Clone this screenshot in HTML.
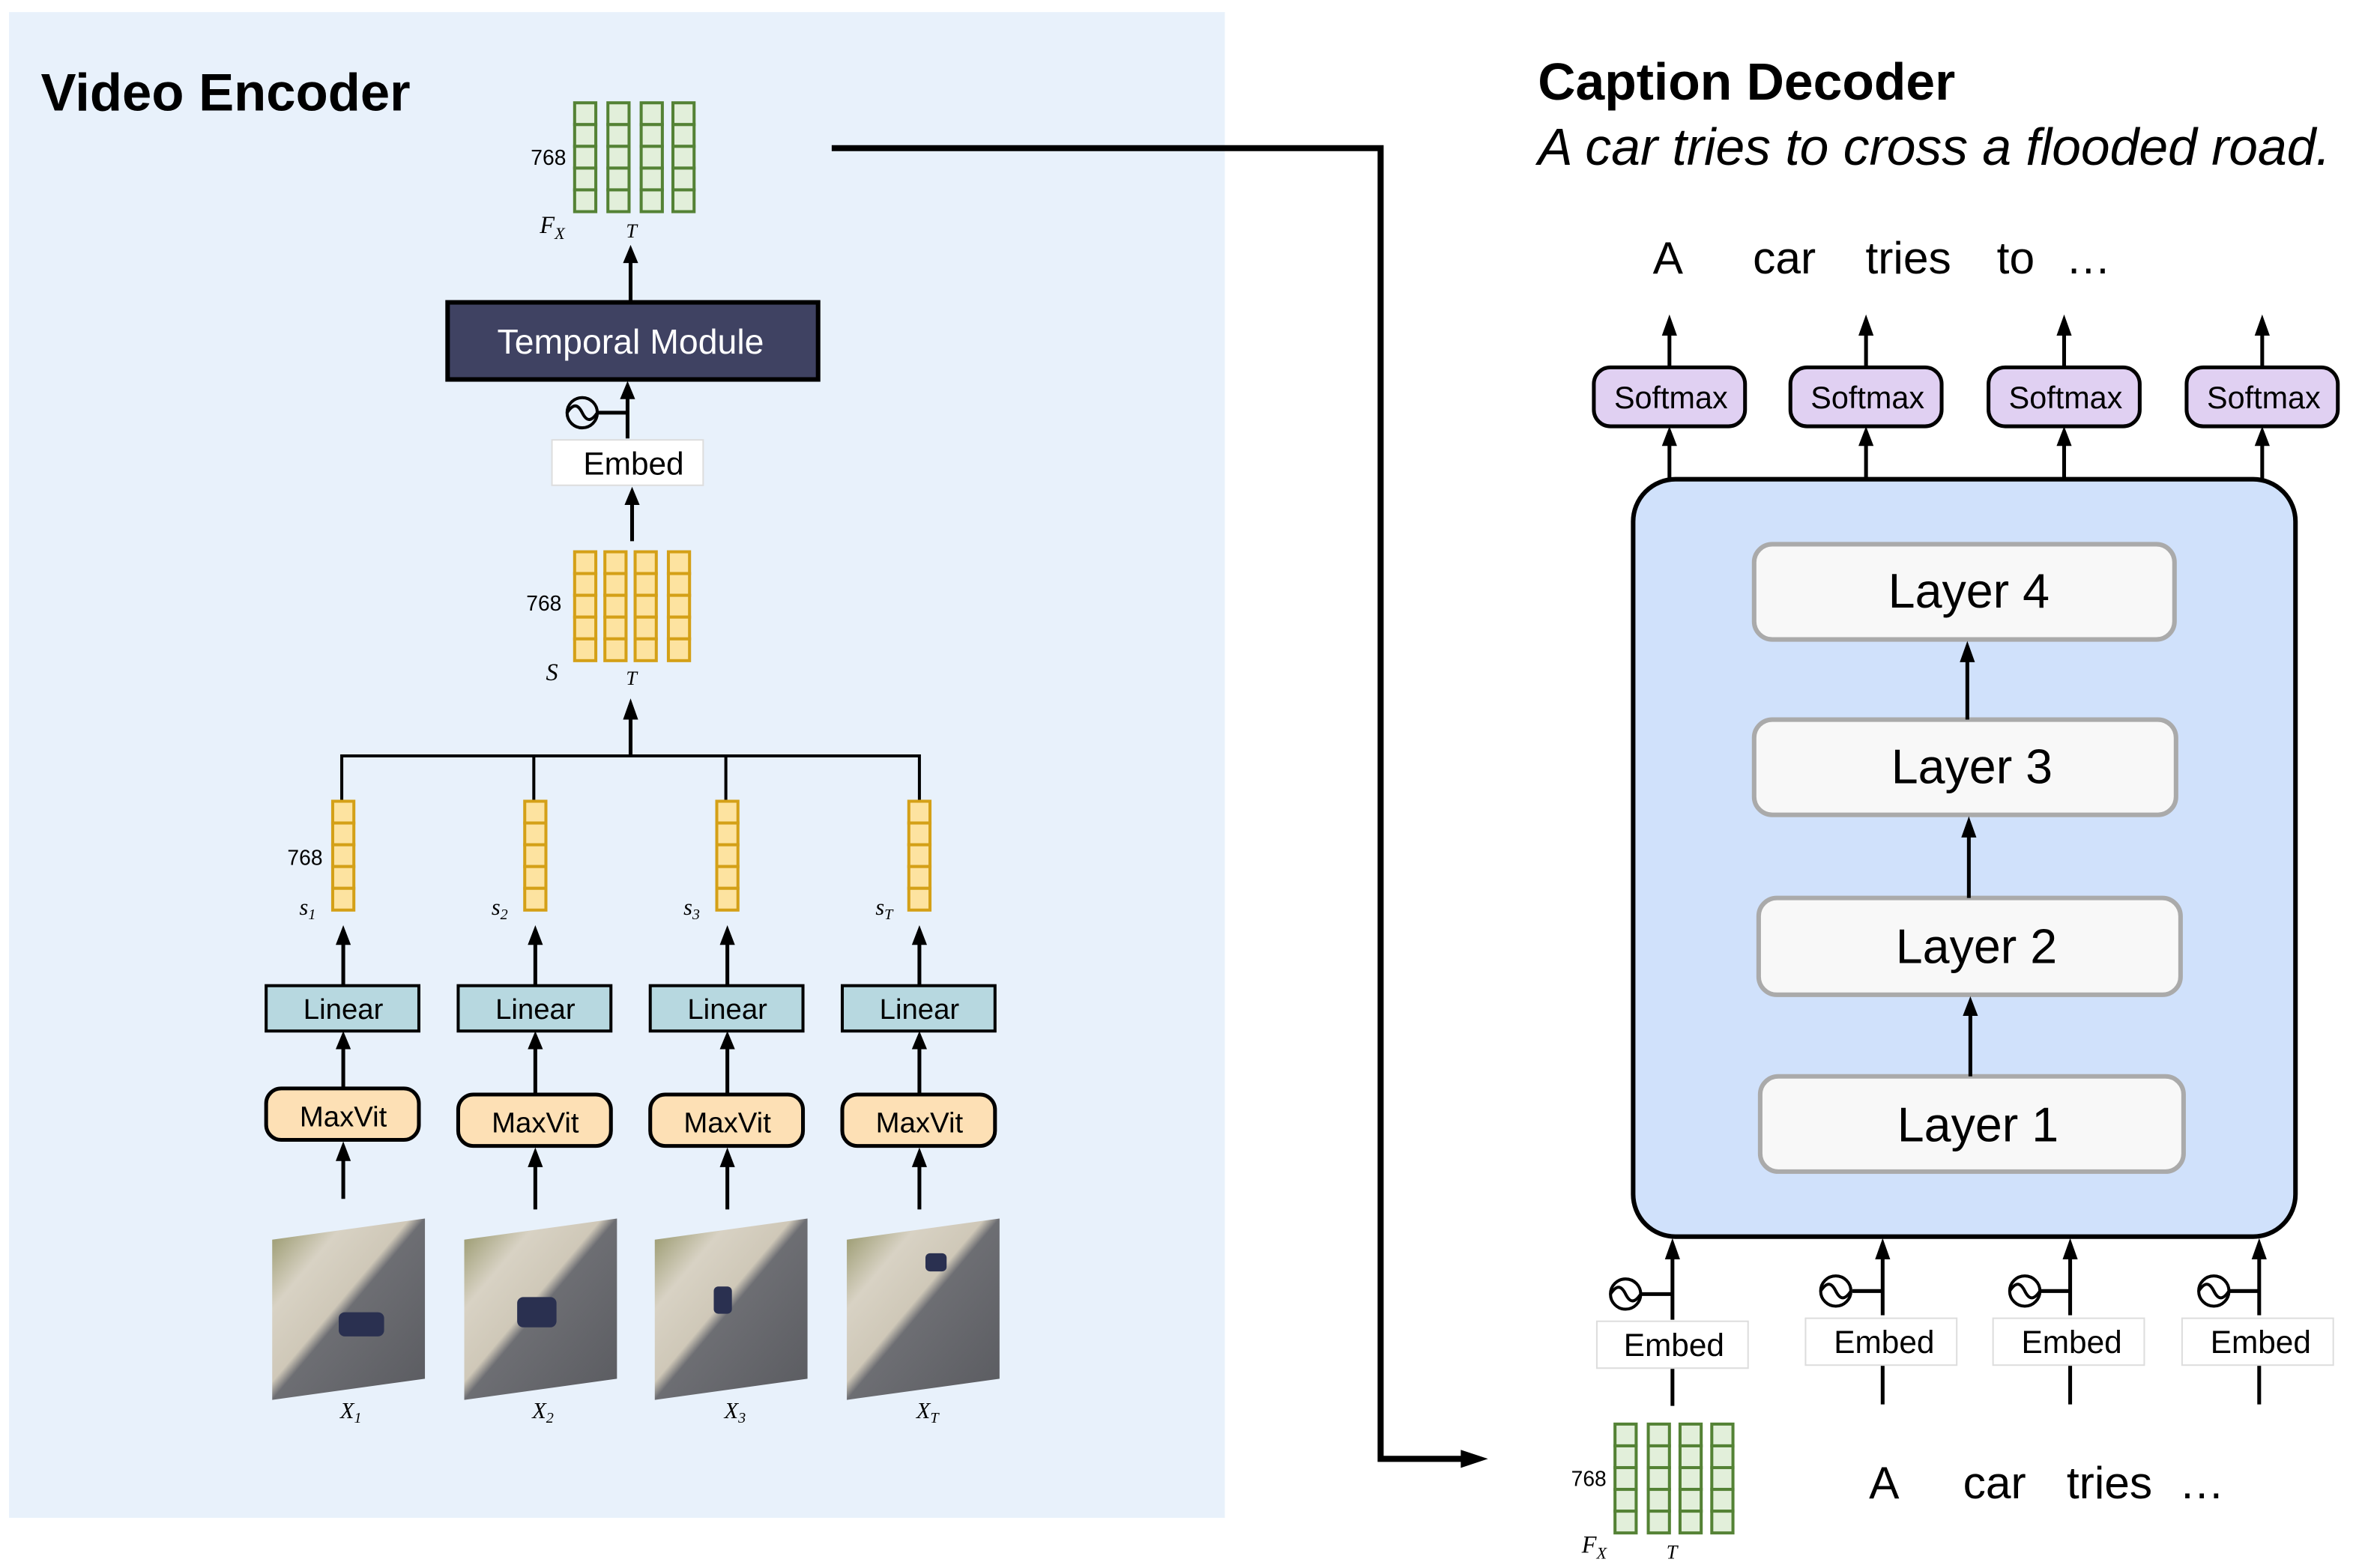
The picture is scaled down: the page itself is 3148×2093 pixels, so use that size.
<!DOCTYPE html>
<html><head><meta charset="utf-8"><style>html,body{margin:0;padding:0;background:#fff}svg{display:block}</style></head>
<body>
<svg width="3148" height="2093" viewBox="0 0 1560 1037.2" xmlns="http://www.w3.org/2000/svg" font-family="Liberation Sans, sans-serif">
<defs>
<g id="cg" fill="#e2efda" stroke="#548235" stroke-width="2">
<rect x="0" y="0" width="14" height="14.4"/><rect x="0" y="14.4" width="14" height="14.4"/><rect x="0" y="28.8" width="14" height="14.4"/><rect x="0" y="43.2" width="14" height="14.4"/><rect x="0" y="57.6" width="14" height="14.4"/>
</g>
<g id="cy" fill="#fde3a0" stroke="#d4a017" stroke-width="2">
<rect x="0" y="0" width="14" height="14.4"/><rect x="0" y="14.4" width="14" height="14.4"/><rect x="0" y="28.8" width="14" height="14.4"/><rect x="0" y="43.2" width="14" height="14.4"/><rect x="0" y="57.6" width="14" height="14.4"/>
</g>
<linearGradient id="img" x1="0" y1="0" x2="1" y2="1">
<stop offset="0" stop-color="#8f9060"/><stop offset="0.25" stop-color="#d8d2c4"/><stop offset="0.45" stop-color="#cfc8b8"/><stop offset="0.5" stop-color="#6d6e73"/><stop offset="1" stop-color="#5a5b60"/>
</linearGradient>
<g id="osc" fill="none" stroke="#000" stroke-width="2"><circle cx="0" cy="0" r="10"/><path d="M-10,0 C-6,-6 -3,-6 0,0 S6,6 10,0"/></g>
</defs>

<rect x="6" y="8" width="804" height="996" fill="#e8f1fb"/>
<text x="27" y="73" font-size="35" font-weight="bold">Video Encoder</text>

<!-- Fx top -->
<use href="#cg" x="380" y="68"/><use href="#cg" x="402" y="68"/><use href="#cg" x="424" y="68"/><use href="#cg" x="445" y="68"/>
<text x="351" y="109" font-size="14">768</text>
<text x="357" y="154" font-size="16" font-style="italic" font-family="Liberation Serif, serif">F<tspan font-size="11" dy="4">X</tspan></text>
<text x="414" y="157" font-size="13" font-style="italic" font-family="Liberation Serif, serif">T</text>

<line x1="417" y1="200" x2="417" y2="172" stroke="#000" stroke-width="2.5"/><polygon points="412,174 422,174 417,162" fill="#000"/>
<rect x="296" y="200" width="245" height="51" fill="#3f4262" stroke="#000" stroke-width="3"/>
<text x="417" y="234" font-size="23" fill="#fff" text-anchor="middle">Temporal Module</text>
<line x1="415" y1="290" x2="415" y2="262" stroke="#000" stroke-width="2.5"/><polygon points="410,264 420,264 415,252" fill="#000"/>
<line x1="395" y1="273" x2="415" y2="273" stroke="#000" stroke-width="2.5"/>
<use href="#osc" x="385" y="273"/>
<rect x="365" y="291" width="100" height="30" fill="#fff" stroke="#ddd"/>
<text x="419" y="314" font-size="21" text-anchor="middle">Embed</text>
<line x1="418" y1="358" x2="418" y2="332" stroke="#000" stroke-width="2.5"/><polygon points="413,334 423,334 418,322" fill="#000"/>

<use href="#cy" x="380" y="365"/><use href="#cy" x="400" y="365"/><use href="#cy" x="420" y="365"/><use href="#cy" x="442" y="365"/>
<text x="348" y="404" font-size="14">768</text>
<text x="361" y="450" font-size="16" font-style="italic" font-family="Liberation Serif, serif">S</text>
<text x="414" y="453" font-size="13" font-style="italic" font-family="Liberation Serif, serif">T</text>
<line x1="417" y1="500" x2="417" y2="474" stroke="#000" stroke-width="2.5"/><polygon points="412,476 422,476 417,462" fill="#000"/>
<polyline points="226,530 226,500 608,500 608,530" fill="none" stroke="#000" stroke-width="2"/>
<line x1="353" y1="500" x2="353" y2="530" stroke="#000" stroke-width="2"/>
<line x1="480" y1="500" x2="480" y2="530" stroke="#000" stroke-width="2"/>

<g>
<use href="#cy" x="220" y="530"/><use href="#cy" x="347" y="530"/><use href="#cy" x="474" y="530"/><use href="#cy" x="601" y="530"/>
<text x="190" y="572" font-size="14">768</text>
<g font-family="Liberation Serif, serif" font-style="italic" font-size="15">
<text x="198" y="605">s<tspan font-size="10" dy="3">1</tspan></text>
<text x="325" y="605">s<tspan font-size="10" dy="3">2</tspan></text>
<text x="452" y="605">s<tspan font-size="10" dy="3">3</tspan></text>
<text x="579" y="605">s<tspan font-size="10" dy="3">T</tspan></text>
</g>
<g stroke="#000" stroke-width="2.5">
<line x1="227" y1="652" x2="227" y2="622"/><line x1="354" y1="652" x2="354" y2="622"/><line x1="481" y1="652" x2="481" y2="622"/><line x1="608" y1="652" x2="608" y2="622"/>
<line x1="227" y1="720" x2="227" y2="692"/><line x1="354" y1="724" x2="354" y2="692"/><line x1="481" y1="724" x2="481" y2="692"/><line x1="608" y1="724" x2="608" y2="692"/>
<line x1="227" y1="793" x2="227" y2="766"/><line x1="354" y1="800" x2="354" y2="770"/><line x1="481" y1="800" x2="481" y2="770"/><line x1="608" y1="800" x2="608" y2="770"/>
</g>
<g fill="#000">
<polygon points="222,625 232,625 227,612"/><polygon points="349,625 359,625 354,612"/><polygon points="476,625 486,625 481,612"/><polygon points="603,625 613,625 608,612"/>
<polygon points="222,694 232,694 227,682"/><polygon points="349,694 359,694 354,682"/><polygon points="476,694 486,694 481,682"/><polygon points="603,694 613,694 608,682"/>
<polygon points="222,768 232,768 227,755"/><polygon points="349,772 359,772 354,759"/><polygon points="476,772 486,772 481,759"/><polygon points="603,772 613,772 608,759"/>
</g>
<g fill="#b7d8e0" stroke="#000" stroke-width="2">
<rect x="176" y="652" width="101" height="30"/><rect x="303" y="652" width="101" height="30"/><rect x="430" y="652" width="101" height="30"/><rect x="557" y="652" width="101" height="30"/>
</g>
<g fill="#fde0b5" stroke="#000" stroke-width="2.5">
<rect x="176" y="720" width="101" height="34" rx="10"/><rect x="303" y="724" width="101" height="34" rx="10"/><rect x="430" y="724" width="101" height="34" rx="10"/><rect x="557" y="724" width="101" height="34" rx="10"/>
</g>
<g font-size="19" text-anchor="middle">
<text x="227" y="674">Linear</text><text x="354" y="674">Linear</text><text x="481" y="674">Linear</text><text x="608" y="674">Linear</text>
<text x="227" y="745">MaxVit</text><text x="354" y="749">MaxVit</text><text x="481" y="749">MaxVit</text><text x="608" y="749">MaxVit</text>
</g>
<g fill="url(#img)">
<polygon points="180,820 281,806 281,912 180,926"/><polygon points="307,820 408,806 408,912 307,926"/><polygon points="433,820 534,806 534,912 433,926"/><polygon points="560,820 661,806 661,912 560,926"/>
</g>
<g fill="#2a3050"><rect x="224" y="868" width="30" height="16" rx="4"/><rect x="342" y="858" width="26" height="20" rx="4"/><rect x="472" y="851" width="12" height="18" rx="3"/><rect x="612" y="829" width="14" height="12" rx="3"/></g>
<g font-family="Liberation Serif, serif" font-style="italic" font-size="15">
<text x="225" y="938">X<tspan font-size="10" dy="3">1</tspan></text>
<text x="352" y="938">X<tspan font-size="10" dy="3">2</tspan></text>
<text x="479" y="938">X<tspan font-size="10" dy="3">3</tspan></text>
<text x="606" y="938">X<tspan font-size="10" dy="3">T</tspan></text>
</g>
</g>

<polyline points="550,98 913,98 913,965 970,965" fill="none" stroke="#000" stroke-width="4"/>
<polygon points="966,959 984,965 966,971" fill="#000"/>

<text x="1017" y="66" font-size="34.5" font-weight="bold">Caption Decoder</text>
<text x="1017" y="109" font-size="34.5" font-style="italic">A car tries to cross a flooded road.</text>
<g font-size="30" text-anchor="middle">
<text x="1103" y="181">A</text><text x="1180" y="181">car</text><text x="1262" y="181">tries</text><text x="1333" y="181">to</text><text x="1381" y="181">…</text>
</g>
<g stroke="#000" stroke-width="2.5">
<line x1="1104" y1="243" x2="1104" y2="220"/><line x1="1234" y1="243" x2="1234" y2="220"/><line x1="1365" y1="243" x2="1365" y2="220"/><line x1="1496" y1="243" x2="1496" y2="220"/>
<line x1="1104" y1="317" x2="1104" y2="292"/><line x1="1234" y1="317" x2="1234" y2="292"/><line x1="1365" y1="317" x2="1365" y2="292"/><line x1="1496" y1="317" x2="1496" y2="292"/>
</g>
<g fill="#000">
<polygon points="1099,222 1109,222 1104,208"/><polygon points="1229,222 1239,222 1234,208"/><polygon points="1360,222 1370,222 1365,208"/><polygon points="1491,222 1501,222 1496,208"/>
<polygon points="1099,295 1109,295 1104,282"/><polygon points="1229,295 1239,295 1234,282"/><polygon points="1360,295 1370,295 1365,282"/><polygon points="1491,295 1501,295 1496,282"/>
</g>
<g fill="#e0d0f2" stroke="#000" stroke-width="2.5">
<rect x="1054" y="243" width="100" height="39" rx="11"/><rect x="1184" y="243" width="100" height="39" rx="11"/><rect x="1315" y="243" width="100" height="39" rx="11"/><rect x="1446" y="243" width="100" height="39" rx="11"/>
</g>
<g font-size="20.5" text-anchor="middle">
<text x="1105" y="270">Softmax</text><text x="1235" y="270">Softmax</text><text x="1366" y="270">Softmax</text><text x="1497" y="270">Softmax</text>
</g>

<rect x="1080" y="317" width="438" height="501" rx="28" fill="#d0e1fb" stroke="#000" stroke-width="3"/>
<g fill="#f8f8f8" stroke="#aaa" stroke-width="3">
<rect x="1160" y="360" width="278" height="63" rx="12"/>
<rect x="1160" y="476" width="279" height="63" rx="12"/>
<rect x="1163" y="594" width="279" height="64" rx="12"/>
<rect x="1164" y="712" width="280" height="63" rx="12"/>
</g>
<g font-size="32" text-anchor="middle">
<text x="1302" y="402">Layer 4</text><text x="1304" y="518">Layer 3</text><text x="1307" y="637">Layer 2</text><text x="1308" y="755">Layer 1</text>
</g>
<g stroke="#000" stroke-width="2.5">
<line x1="1301" y1="476" x2="1301" y2="436"/><line x1="1302" y1="594" x2="1302" y2="552"/><line x1="1303" y1="712" x2="1303" y2="670"/>
</g>
<g fill="#000">
<polygon points="1296,438 1306,438 1301,424"/><polygon points="1297,554 1307,554 1302,540"/><polygon points="1298,672 1308,672 1303,659"/>
</g>

<g stroke="#000" stroke-width="2.5">
<line x1="1106" y1="873" x2="1106" y2="830"/><line x1="1245" y1="870" x2="1245" y2="830"/><line x1="1369" y1="870" x2="1369" y2="830"/><line x1="1494" y1="870" x2="1494" y2="830"/>
<line x1="1106" y1="905" x2="1106" y2="930"/><line x1="1245" y1="903" x2="1245" y2="929"/><line x1="1369" y1="903" x2="1369" y2="929"/><line x1="1494" y1="903" x2="1494" y2="929"/>
<line x1="1085" y1="856" x2="1106" y2="856"/><line x1="1225" y1="854" x2="1245" y2="854"/><line x1="1349" y1="854" x2="1369" y2="854"/><line x1="1474" y1="854" x2="1494" y2="854"/>
</g>
<g fill="#000">
<polygon points="1101,833 1111,833 1106,819"/><polygon points="1240,833 1250,833 1245,819"/><polygon points="1364,833 1374,833 1369,819"/><polygon points="1489,833 1499,833 1494,819"/>
</g>
<use href="#osc" x="1075" y="856"/><use href="#osc" x="1214" y="854"/><use href="#osc" x="1339" y="854"/><use href="#osc" x="1464" y="854"/>
<g fill="#fff" stroke="#ddd">
<rect x="1056" y="874" width="100" height="31"/><rect x="1194" y="872" width="100" height="31"/><rect x="1318" y="872" width="100" height="31"/><rect x="1443" y="872" width="100" height="31"/>
</g>
<g font-size="21" text-anchor="middle">
<text x="1107" y="897">Embed</text><text x="1246" y="895">Embed</text><text x="1370" y="895">Embed</text><text x="1495" y="895">Embed</text>
</g>
<use href="#cg" x="1068" y="942"/><use href="#cg" x="1090" y="942"/><use href="#cg" x="1111" y="942"/><use href="#cg" x="1132" y="942"/>
<text x="1039" y="983" font-size="14">768</text>
<text x="1046" y="1027" font-size="16" font-style="italic" font-family="Liberation Serif, serif">F<tspan font-size="11" dy="4">X</tspan></text>
<text x="1102" y="1031" font-size="13" font-style="italic" font-family="Liberation Serif, serif">T</text>
<g font-size="30" text-anchor="middle">
<text x="1246" y="991">A</text><text x="1319" y="991">car</text><text x="1395" y="991">tries</text><text x="1456" y="991">…</text>
</g>
</svg>
</body></html>
